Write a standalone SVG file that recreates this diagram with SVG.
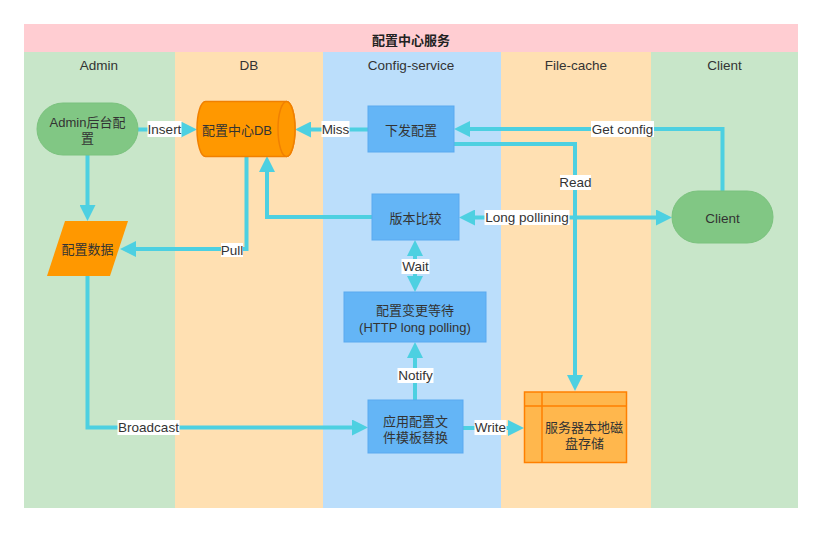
<svg xmlns="http://www.w3.org/2000/svg" width="822" height="533" viewBox="0 0 822 533">
<style>
text{font-family:"Liberation Sans","Noto Sans CJK SC",sans-serif;font-size:13px;fill:#333;text-anchor:middle;dominant-baseline:central}
.lat{font-size:13.5px}
.title{font-weight:bold;fill:#222}
.edge{fill:none;stroke:#4DD0E1;stroke-width:4}
.lbl{fill:#fff}
.box{fill:#64B5F6;stroke:#5AA9F0;stroke-width:1}
.green{fill:#81C784;stroke:#7BC27E;stroke-width:1}
</style>
<defs>
<marker id="ah" viewBox="0 0 16 16" refX="0" refY="8" markerWidth="16" markerHeight="16" markerUnits="userSpaceOnUse" orient="auto-start-reverse">
<path d="M0,0 L16,8 L0,16 z" fill="#4DD0E1"/>
</marker>
</defs>
<rect width="822" height="533" fill="#fff"/>
<g id="pool">
<rect x="24" y="24" width="774" height="28" fill="#FFCDD2"/>
<text class="title" x="411" y="40.5">配置中心服务</text>
</g>
<g id="lane-admin"><rect x="24" y="52" width="151" height="456" fill="#C8E6C9"/><text class="lat" x="99" y="65.5">Admin</text></g>
<g id="lane-db"><rect x="175" y="52" width="148" height="456" fill="#FFE0B2"/><text class="lat" x="249" y="65.5">DB</text></g>
<g id="lane-config"><rect x="323" y="52" width="178" height="456" fill="#BBDEFB"/><text class="lat" x="411" y="65.5">Config-service</text></g>
<g id="lane-filecache"><rect x="501" y="52" width="150" height="456" fill="#FFE0B2"/><text class="lat" x="576" y="65.5">File-cache</text></g>
<g id="lane-client"><rect x="651" y="52" width="147" height="456" fill="#C8E6C9"/><text class="lat" x="724.5" y="65.5">Client</text></g>

<g id="connectors">
<path class="edge" d="M138,129.5 H181" marker-end="url(#ah)"/>
<path class="edge" d="M368,129.5 H311" marker-end="url(#ah)"/>
<path class="edge" d="M722.5,191 V129 H470" marker-end="url(#ah)"/>
<path class="edge" d="M454,144 H575 V375" marker-end="url(#ah)"/>
<path class="edge" d="M475,217.5 H656" marker-start="url(#ah)" marker-end="url(#ah)"/>
<path class="edge" d="M372,217 H267 V172" marker-end="url(#ah)"/>
<path class="edge" d="M246.5,157 V249 H136" marker-end="url(#ah)"/>
<path class="edge" d="M87.5,155 V205" marker-end="url(#ah)"/>
<path class="edge" d="M87.5,276 V427.5 H352" marker-end="url(#ah)"/>
<path class="edge" d="M415,256 V276" marker-start="url(#ah)" marker-end="url(#ah)"/>
<path class="edge" d="M415,400 V358" marker-end="url(#ah)"/>
<path class="edge" d="M463,428 H508" marker-end="url(#ah)"/>
<g id="edge-labels">
<rect class="lbl" x="147.5" y="121" width="34" height="16"/><text class="lat" x="164.5" y="129.5">Insert</text>
<rect class="lbl" x="321.5" y="121" width="28" height="16"/><text class="lat" x="335.5" y="129.5">Miss</text>
<rect class="lbl" x="591" y="121" width="63" height="16"/><text class="lat" x="622.5" y="129.5">Get config</text>
<rect class="lbl" x="560" y="175" width="31" height="15"/><text class="lat" x="575.5" y="182.5">Read</text>
<rect class="lbl" x="484.5" y="210" width="85" height="15"/><text class="lat" x="527" y="217.5">Long pollining</text>
<rect class="lbl" x="221" y="243" width="22" height="14"/><text class="lat" x="232" y="250">Pull</text>
<rect class="lbl" x="401.5" y="259" width="28" height="15"/><text class="lat" x="415.5" y="266.5">Wait</text>
<rect class="lbl" x="397.5" y="368" width="36" height="15"/><text class="lat" x="415.5" y="375.5">Notify</text>
<rect class="lbl" x="117.5" y="420" width="62" height="15"/><text class="lat" x="148.5" y="427.5">Broadcast</text>
<rect class="lbl" x="474.5" y="420" width="32" height="15"/><text class="lat" x="490.5" y="427.5">Write</text>
</g>
</g>

<g id="node-admin-config">
<rect class="green" x="37" y="103" width="101" height="52" rx="26" ry="26"/>
<text x="87.5" y="122.5">Admin后台配</text>
<text x="87.5" y="138.5">置</text>
</g>
<g id="node-db">
<path d="M205.5,101.5 H286.5 A8.5,27.5 0 0 1 286.5,156.5 H205.5 A8.5,27.5 0 0 1 205.5,101.5 Z" fill="#FF9800" stroke="#F08000" stroke-width="1.5"/>
<ellipse cx="286.5" cy="129" rx="8.5" ry="27.5" fill="#FF9800" stroke="#F08000" stroke-width="1.5"/>
<text x="237" y="130.5">配置中心DB</text>
</g>
<g id="node-dispatch">
<rect class="box" x="368" y="106" width="86" height="46"/>
<text x="411" y="130">下发配置</text>
</g>
<g id="node-version">
<rect class="box" x="372" y="194" width="87" height="46"/>
<text x="415.5" y="218">版本比较</text>
</g>
<g id="node-wait">
<rect class="box" x="344" y="292" width="142" height="50"/>
<text x="415" y="310.5">配置变更等待</text>
<text x="415" y="327">(HTTP long polling)</text>
</g>
<g id="node-apply">
<rect class="box" x="368" y="400" width="95" height="53"/>
<text x="415.5" y="421.5">应用配置文</text>
<text x="415.5" y="437">件模板替换</text>
</g>
<g id="node-config-data">
<path d="M65,221 L128,221 L110,276 L47,276 Z" fill="#FF9800"/>
<text x="87.5" y="249">配置数据</text>
</g>
<g id="node-client">
<rect class="green" x="672" y="191" width="101" height="52" rx="26" ry="26"/>
<text class="lat" x="722.5" y="218">Client</text>
</g>
<g id="node-storage">
<rect x="524.5" y="392" width="102" height="70.5" fill="#FFB74D" stroke="#FF8000" stroke-width="1.5"/>
<path d="M542,392 V462.5 M524.5,406 H626.5" fill="none" stroke="#FF8000" stroke-width="1.5"/>
<text x="584" y="427.5">服务器本地磁</text>
<text x="584.5" y="443.5">盘存储</text>
</g>
</svg>
